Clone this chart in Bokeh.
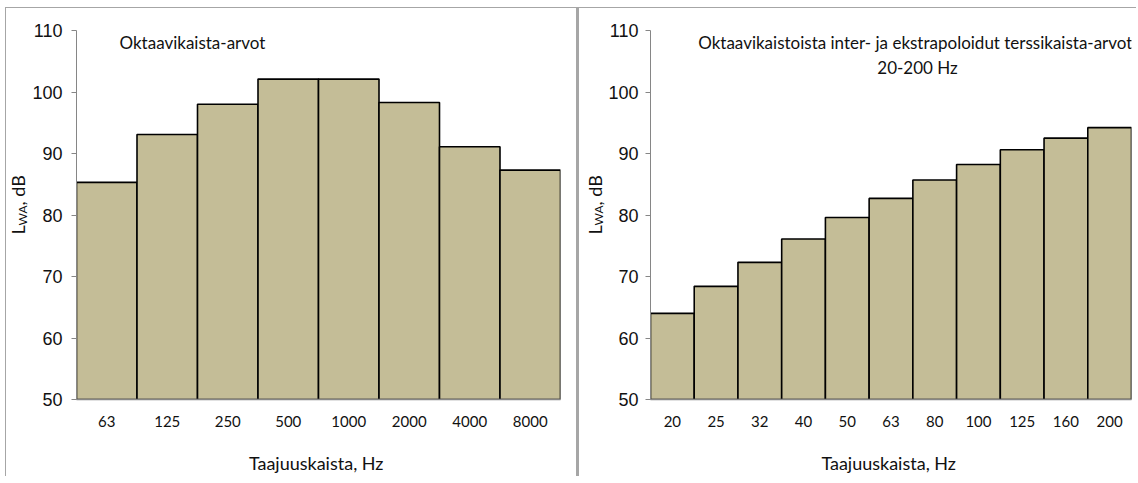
import math
from bokeh.plotting import figure
from bokeh.models import Range1d, FixedTicker, Label, Div, Spacer
from bokeh.layouts import row, column
from bokeh.core.properties import value
from bokeh.embed import file_html
from bokeh.resources import INLINE

# ---- data ----
oct_bands = ["63", "125", "250", "500", "1000", "2000", "4000", "8000"]
oct_levels = [85.3, 93.1, 98.0, 102.1, 102.1, 98.3, 91.1, 87.3]

third_bands = ["20", "25", "32", "40", "50", "63", "80", "100", "125", "160", "200"]
third_levels = [64.0, 68.4, 72.3, 76.1, 79.6, 82.7, 85.7, 88.2, 90.6, 92.5, 94.2]

y_ticks = [50, 60, 70, 80, 90, 100, 110]
left_title = ["Oktaavikaista-arvot"]
right_title = ["Oktaavikaistoista inter- ja ekstrapoloidut  terssikaista-arvot", "20-200 Hz"]
x_label = "Taajuuskaista,  Hz"
y_label_parts = ["L", "WA", ", dB"]

NARROW = "Lato"
REG = "Liberation Sans"
BAR_FILL = "#c4bd97"
GRAY = "#868686"
BOX = "#a6a6a6"
TXT = "#111111"
H = 468          # height of the chart row (starts 8px below page top)
BT, BB = 22, H - 391   # top / bottom borders -> frame from page y 30 to 399
PX_PER_UNIT = 369 / 60.0


def ylab_strip(width, cx, sub_dx):
    """narrow figure holding the rotated y-axis label L_WA, dB."""
    p = figure(width=width, height=H, x_range=Range1d(0, width), y_range=Range1d(50, 110),
               x_axis_location=None, y_axis_location=None, output_backend="svg",
               toolbar_location=None, min_border_left=0, min_border_right=0,
               min_border_top=BT, min_border_bottom=BB, margin=0)
    p.outline_line_color = None
    p.xgrid.visible = False
    p.ygrid.visible = False
    # page y of the lower end of each piece
    starts = [234, 225, 205]
    dxs = [0, sub_dx, 0]
    sizes = ["18px", "12px", "18px"]
    for t, s, dx, fs in zip(y_label_parts, starts, dxs, sizes):
        p.text(x=[cx + dx], y=[50 + (399 - s) / PX_PER_UNIT], text=[t], angle=math.pi / 2,
               text_font=value(NARROW), text_font_size=fs, text_color=TXT,
               text_align="left", text_baseline="middle")
    return p


def chart(bands, levels, width, bl, br, titles, title_dx, title_align):
    n = len(bands)
    p = figure(width=width, height=H, x_range=Range1d(0.5, n + 0.5), y_range=Range1d(50, 110),
               output_backend="svg", toolbar_location=None, margin=0,
               min_border_left=bl, min_border_right=br, min_border_top=BT, min_border_bottom=BB)
    p.outline_line_color = None
    p.xgrid.visible = False
    p.ygrid.visible = False
    p.background_fill_color = "white"
    p.border_fill_color = "white"

    xs = list(range(1, n + 1))
    p.vbar(x=xs, top=levels, bottom=50, width=1.0, fill_color=BAR_FILL,
           line_color="black", line_width=1.6)

    ya = p.yaxis[0]
    ya.ticker = FixedTicker(ticks=y_ticks)
    ya.minor_tick_line_color = None
    ya.major_tick_in = 0
    ya.major_tick_out = 5
    ya.axis_line_color = GRAY
    ya.major_tick_line_color = GRAY
    ya.major_label_standoff = bl - 5 - 31
    ya.major_label_text_font = REG
    ya.major_label_text_font_size = "18px"
    ya.major_label_text_color = TXT

    xa = p.xaxis[0]
    xa.ticker = FixedTicker(ticks=xs)
    xa.major_label_overrides = {x: b for x, b in zip(xs, bands)}
    xa.minor_tick_line_color = None
    xa.major_tick_in = 0
    xa.major_tick_out = 0
    xa.axis_line_color = GRAY
    xa.axis_line_width = 1.5
    xa.major_label_standoff = 16
    xa.major_label_text_font = NARROW
    xa.major_label_text_font_size = "15px"
    xa.major_label_text_color = TXT
    xa.axis_label = x_label
    xa.axis_label_standoff = 22
    xa.axis_label_text_font = NARROW
    xa.axis_label_text_font_size = "18px"
    xa.axis_label_text_font_style = "normal"
    xa.axis_label_text_color = TXT

    for i, t in enumerate(titles):
        p.add_layout(Label(x=0.5, y=110, x_offset=title_dx, y_offset=-12 - 25 * i, text=t,
                           text_font=NARROW, text_font_size="17px", text_color=TXT,
                           text_align=title_align, text_baseline="middle"))
    return p


def line_div(w, h):
    return Div(width=w, height=h, margin=0, styles={"background-color": BOX})


ylabL = ylab_strip(23, 11, 5)
left = chart(oct_bands, oct_levels, 547, 45, 16, left_title, 43, "left")
ylabR = ylab_strip(26, 15, 4)
right = chart(third_bands, third_levels, 531, 43, 5, right_title, 267, "center")

top_line = row(Spacer(width=5, height=1, margin=0), line_div(1131, 1), margin=0)
body = row(Spacer(width=5, height=H, margin=0), line_div(1, H), ylabL, left,
           line_div(3, H), ylabR, right, margin=0)
layout = column(Spacer(width=1136, height=7, margin=0), top_line, body, margin=0)
open("out.html", "w").write(file_html(layout, INLINE))
